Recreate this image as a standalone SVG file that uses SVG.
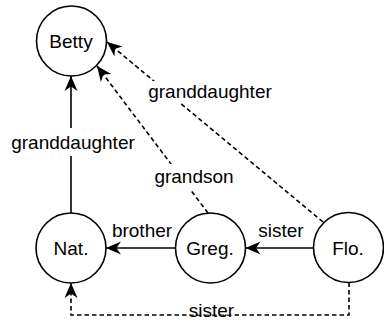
<svg xmlns="http://www.w3.org/2000/svg" width="384" height="323" viewBox="0 0 384 323">
  <style>
    .node circle { fill: #ffffff; stroke: #000000; stroke-width: 1.6; }
    .node text, .label { font-family: "Liberation Sans", Arial, sans-serif; font-size: 19px; fill: #000000; text-anchor: middle; }
    .edge { fill: none; stroke: #000000; stroke-width: 1.6; }
    .dashed { stroke-dasharray: 4.5 3; }
    .lbg { fill: #ffffff; stroke: none; }
  </style>
  <defs>
    <marker id="arrow" markerUnits="userSpaceOnUse" markerWidth="17" markerHeight="16" viewBox="-16 -8 17 16" refX="0" refY="0" orient="auto">
      <path d="M0,0 L-15,-6.5 L-10.5,0 L-15,6.5 Z" fill="#000000" stroke="none"/>
    </marker>
  </defs>

  <g id="connectors">
    <!-- Nat. -> Betty -->
    <path class="edge" d="M71,213 L71,76" marker-end="url(#arrow)"/>
    <!-- Greg. -> Nat. -->
    <path class="edge" d="M175.5,248 L106,248" marker-end="url(#arrow)"/>
    <!-- Flo. -> Greg. -->
    <path class="edge" d="M313.5,248 L245.5,248" marker-end="url(#arrow)"/>
    <!-- Greg. -> Betty -->
    <path class="edge dashed" d="M208,213 L97,66" marker-end="url(#arrow)"/>
    <!-- Flo. -> Betty -->
    <path class="edge dashed" d="M323,222 L107,42" marker-end="url(#arrow)"/>
    <!-- Flo. -> Nat. -->
    <path class="edge dashed" d="M349,282.5 L349,315 L71,315 L71,283" marker-end="url(#arrow)"/>

    <rect class="lbg" x="10" y="128" width="127" height="28"/>
    <text class="label" x="73" y="149">granddaughter</text>
    <text class="label" x="142" y="237">brother</text>
    <text class="label" x="281" y="237">sister</text>
    <rect class="lbg" x="153" y="164" width="82" height="27"/>
    <text class="label" x="194" y="183">grandson</text>
    <rect class="lbg" x="145" y="81" width="130" height="22"/>
    <text class="label" x="210" y="98">granddaughter</text>
    <rect class="lbg" x="188" y="302" width="47" height="12.5"/>
    <text class="label" x="211.5" y="316.5">sister</text>
  </g>

  <g id="betty" class="node">
    <circle cx="71.5" cy="41" r="35"/>
    <text x="71" y="48">Betty</text>
  </g>
  <g id="nat" class="node">
    <circle cx="71" cy="248" r="35"/>
    <text x="71" y="255">Nat.</text>
  </g>
  <g id="greg" class="node">
    <circle cx="210.5" cy="248" r="35"/>
    <text x="210" y="255">Greg.</text>
  </g>
  <g id="flo" class="node">
    <circle cx="348.5" cy="247.5" r="35"/>
    <text x="348" y="255">Flo.</text>
  </g>
</svg>
